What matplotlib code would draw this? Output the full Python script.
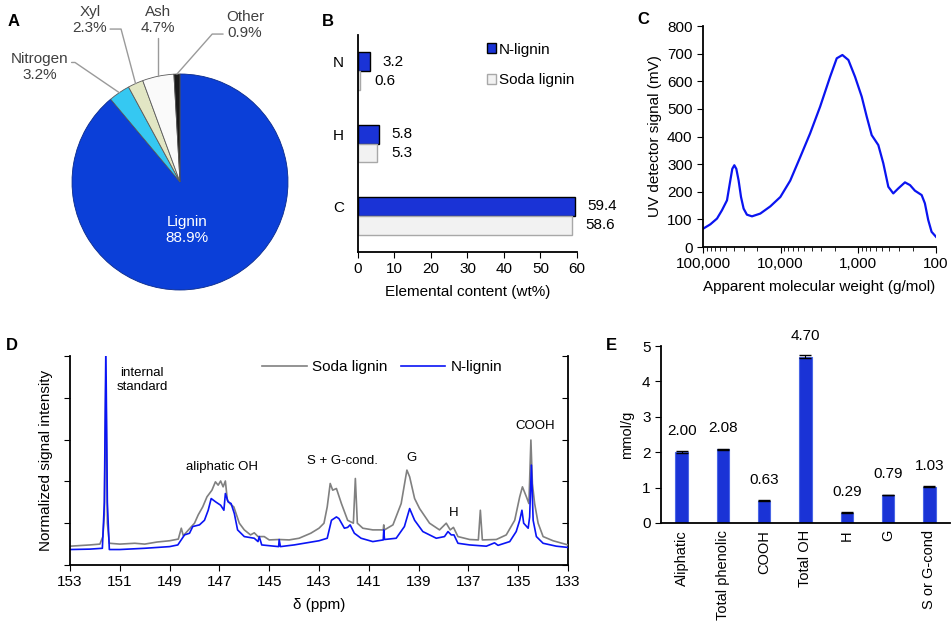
import numpy as np
import matplotlib
matplotlib.use('Agg')
import matplotlib.pyplot as plt
from matplotlib.patches import Patch
from matplotlib.ticker import NullFormatter

plt.rcParams['font.family'] = ['Liberation Sans', 'DejaVu Sans']
plt.rcParams['font.size'] = 11

# ---- data ----
# A: composition of N-lignin
comp_names = ['Lignin', 'Nitrogen', 'Xyl', 'Ash', 'Other']
comp_pct = [88.9, 3.2, 2.3, 4.7, 0.9]

# B: elemental content
elements = ['N', 'H', 'C']
n_lignin_wt = [3.2, 5.8, 59.4]
soda_lignin_wt = [0.6, 5.3, 58.6]

# C: GPC trace
mw = [100000, 80500, 66000, 57000, 51600, 49100, 44500, 41950, 39500, 37250,
      34800, 32400, 30000, 27200, 23400, 18300, 13600, 10100, 7540, 5610,
      4180, 3105, 2310, 1897, 1604, 1343, 1102, 904, 780, 673,
      553, 477, 411, 355, 306, 251, 216, 187, 153, 139,
      126, 114, 100]
uv_signal = [66, 82, 103, 133, 157, 169, 241, 283, 296, 283,
             241, 181, 139, 117, 111, 121, 147, 181, 240, 325,
             411, 508, 616, 683, 695, 677, 616, 544, 472, 405,
             369, 303, 218, 194, 212, 234, 224, 204, 188, 158,
             98, 55, 37]

# D: 31P NMR spectra
soda_ppm = [153.0, 152.2, 151.8, 151.68, 151.62, 151.56, 151.50, 151.42, 151.0, 150.4,
            150.0, 149.5, 149.0, 148.65, 148.53, 148.45, 148.3, 148.0, 147.85, 147.67,
            147.5, 147.3, 147.16, 147.05, 146.95, 146.85, 146.76, 146.68, 146.55, 146.42,
            146.2, 146.0, 145.75, 145.6, 145.45, 145.2, 145.0, 144.6, 144.2, 143.8,
            143.33, 143.0, 142.8, 142.67, 142.55, 142.45, 142.3, 142.1, 141.85, 141.62,
            141.54, 141.46, 141.24, 140.84, 140.42, 140.4, 140.37, 140.03, 139.7, 139.47,
            139.36, 139.16, 138.96, 138.56, 138.16, 137.89, 137.73, 137.6, 137.42, 136.95,
            136.6, 136.52, 136.44, 135.88, 135.48, 135.14, 134.94, 134.83, 134.67, 134.57,
            134.49, 134.43, 134.34, 134.2, 134.0, 133.6, 133.0]
soda_int = [0.45, 0.48, 0.50, 0.68, 1.2, 4.5, 1.0, 0.52, 0.50, 0.52,
            0.50, 0.55, 0.58, 0.62, 0.88, 0.70, 0.80, 1.00, 1.20, 1.39,
            1.63, 1.79, 1.99, 1.91, 2.01, 1.87, 2.01, 1.55, 1.45, 1.39,
            1.00, 0.84, 0.72, 0.77, 0.68, 0.68, 0.60, 0.61, 0.60, 0.64,
            0.76, 0.88, 1.00, 1.39, 1.95, 1.79, 1.83, 1.47, 1.07, 1.00,
            2.07, 1.00, 0.88, 0.84, 0.84, 0.96, 0.84, 0.96, 1.47, 2.27,
            2.11, 1.59, 1.35, 1.00, 0.84, 1.00, 0.84, 0.90, 0.68, 0.61,
            0.60, 1.31, 0.60, 0.61, 0.72, 1.07, 1.63, 1.87, 1.63, 1.47,
            2.99, 1.95, 1.47, 1.00, 0.68, 0.58, 0.48]

nlig_ppm = [153.0, 152.2, 151.7, 151.62, 151.56, 151.50, 151.42, 151.0, 150.0, 149.0,
            148.67, 148.4, 148.2, 148.07, 147.8, 147.6, 147.45, 147.33, 147.15, 146.95,
            146.82, 146.76, 146.65, 146.53, 146.4, 146.27, 146.0, 145.6, 145.45, 145.4,
            145.3, 144.8, 144.62, 144.6, 144.55, 144.0, 143.5, 143.0, 142.67, 142.5,
            142.3, 142.2, 141.98, 141.85, 141.75, 141.58, 141.31, 140.84, 140.42, 140.40,
            140.37, 139.9, 139.57, 139.36, 139.16, 138.83, 138.29, 137.96, 137.82, 137.69,
            137.58, 137.42, 136.95, 136.28, 135.95, 135.81, 135.34, 135.08, 134.94, 134.85,
            134.78, 134.6, 134.54, 134.47, 134.4, 134.27, 134.0, 133.47, 133.0]
nlig_int = [0.37, 0.38, 0.40, 1.5, 5.2, 1.5, 0.37, 0.37, 0.40, 0.44,
            0.48, 0.72, 0.76, 0.92, 0.96, 1.07, 1.31, 1.59, 1.51, 1.43,
            1.31, 1.71, 1.51, 1.47, 1.23, 0.84, 0.68, 0.64, 0.56, 0.68,
            0.48, 0.45, 0.44, 0.61, 0.44, 0.48, 0.53, 0.58, 0.64, 1.07,
            1.15, 1.11, 0.88, 0.90, 0.96, 0.76, 0.64, 0.56, 0.60, 0.84,
            0.61, 0.64, 0.92, 1.35, 1.07, 0.80, 0.64, 0.68, 0.80, 0.72,
            0.72, 0.52, 0.48, 0.45, 0.53, 0.47, 0.56, 0.80, 1.07, 1.31,
            1.00, 0.88, 1.15, 2.39, 1.07, 0.68, 0.52, 0.45, 0.42]

# E: hydroxyl groups
oh_groups = ['Aliphatic', 'Total phenolic', 'COOH', 'Total OH', 'H', 'G', 'S or G-cond']
oh_mmol = [2.00, 2.08, 0.63, 4.70, 0.29, 0.79, 1.03]
oh_err = [0.03, 0.01, 0.01, 0.04, 0.01, 0.01, 0.01]

BLUE = '#1a33d6'
W, H = 953, 633
fig = plt.figure(figsize=(W / 100, H / 100), dpi=100)


def px_axes(left, top, right, bottom):
    return fig.add_axes([left / W, 1 - bottom / H, (right - left) / W, (bottom - top) / H])


def label(x, y, s):
    fig.text(x / W, 1 - y / H, s, fontsize=12, fontweight='bold', ha='left', va='center')


# ---------------- A ----------------
axA = px_axes(0, 0, 330, 290)
cx, cy, r = 180, 108, 108
wedges, _ = axA.pie(comp_pct, colors=['#0b3fd8', '#35c8f2', '#e2e6c4', '#fafafa', '#1a1a1a'],
                    startangle=90, counterclock=False, center=(cx, cy), radius=r,
                    wedgeprops=dict(edgecolor='#5a5a5a', linewidth=0.6))
wedges[0].set_edgecolor('#0a2a8a')
axA.set_xlim(0, 330)
axA.set_ylim(0, 290)
axA.axis('off')
axA.text(187, 60, 'Lignin\n88.9%', color='white', ha='center', va='center', fontsize=11)

lab_pos = {'Nitrogen': (40, 223, 145.7, (1.0, 0.65)),
           'Xyl': (90, 270, 104.9, (1.0, 0.2)),
           'Ash': (158, 270, 90.0, (0.5, 0.0)),
           'Other': (245, 265, 48.6, (0.0, 0.2))}
for w, name, pct in zip(wedges, comp_names, comp_pct):
    if name not in lab_pos:
        continue
    tx, ty, angB, rel = lab_pos[name]
    mid = np.deg2rad((w.theta1 + w.theta2) / 2)
    xy = (cx + r * np.cos(mid), cy + r * np.sin(mid))
    axA.annotate(f'{name}\n{pct}%', xy=xy, xytext=(tx, ty), ha='center', va='center',
                 color='#404040', fontsize=11,
                 arrowprops=dict(arrowstyle='-', color='#9a9a9a', lw=1, relpos=rel,
                                 shrinkA=0, shrinkB=0,
                                 connectionstyle=f'angle,angleA=0,angleB={angB},rad=0'))
label(8, 22, 'A')

# ---------------- B ----------------
axB = px_axes(358, 35, 577, 252)
yy = np.arange(len(elements))
hb = 0.26
axB.barh(yy - hb / 2, n_lignin_wt, height=hb, color=BLUE, edgecolor='black', linewidth=1,
         label='N-lignin')
axB.barh(yy + hb / 2, soda_lignin_wt, height=hb, color='#f2f2f2', edgecolor='#a8a8a8',
         linewidth=1, label='Soda lignin')
for i in yy:
    axB.annotate(f'{n_lignin_wt[i]}', (n_lignin_wt[i], i - hb / 2), xytext=(9, 0),
                 textcoords='offset points', ha='left', va='center', fontsize=11)
    axB.annotate(f'{soda_lignin_wt[i]}', (soda_lignin_wt[i], i + hb / 2), xytext=(10, 0),
                 textcoords='offset points', ha='left', va='center', fontsize=11)
axB.set_xlim(0, 60)
axB.set_ylim(2.5, -0.5)
axB.set_yticks(yy - hb / 2)
axB.set_yticklabels(elements)
axB.set_xticks(range(0, 61, 10))
axB.tick_params(axis='y', length=0, pad=10, labelsize=11)
axB.tick_params(axis='x', direction='out', length=4, labelsize=11)
for s in ['top', 'right']:
    axB.spines[s].set_visible(False)
axB.spines['left'].set_linewidth(1.3)
axB.spines['bottom'].set_linewidth(1.3)
axB.set_xlabel('Elemental content (wt%)', fontsize=11, labelpad=6)
hB = [Patch(facecolor=BLUE, edgecolor='black'), Patch(facecolor='#f2f2f2', edgecolor='#a8a8a8')]
axB.legend(hB, ['N-lignin', 'Soda lignin'], frameon=False, loc='upper left',
           bbox_to_anchor=(0.553, 1.0), borderpad=0, handlelength=0.6, handleheight=0.6,
           handletextpad=0.2, labelspacing=1.1, fontsize=11)
label(322, 22, 'B')

# ---------------- C ----------------
axC = px_axes(703, 26, 936, 247)
axC.plot(mw, uv_signal, color='#0a14f0', lw=1.6)
axC.set_xscale('log')
axC.set_xlim(100000, 100)
axC.set_ylim(0, 800)
axC.set_yticks(range(0, 801, 100))
axC.set_xticks([100000, 10000, 1000, 100])
axC.set_xticklabels(['100,000', '10,000', '1,000', '100'])
axC.xaxis.set_minor_formatter(NullFormatter())
axC.tick_params(axis='both', which='major', direction='out', length=4, labelsize=11)
axC.tick_params(axis='x', which='minor', direction='out', length=3)
for s in ['top', 'right']:
    axC.spines[s].set_visible(False)
axC.spines['left'].set_linewidth(1.3)
axC.spines['bottom'].set_linewidth(1.3)
axC.set_ylabel('UV detector signal (mV)', fontsize=11, labelpad=4)
axC.set_xlabel('Apparent molecular weight (g/mol)', fontsize=11, labelpad=6)
label(637, 20, 'C')

# ---------------- D ----------------
axD = px_axes(70, 356, 568, 565)
axD.plot(soda_ppm, soda_int, color='#808080', lw=1.2, label='Soda lignin')
axD.plot(nlig_ppm, nlig_int, color='#0a14f5', lw=1.2, label='N-lignin')
axD.set_xlim(153, 133)
axD.set_ylim(0, 5)
axD.set_xticks(range(153, 132, -2))
axD.set_yticks(range(0, 6))
axD.tick_params(axis='y', labelleft=False, direction='out', length=4)
axD.tick_params(axis='x', direction='out', length=4, labelsize=11)
axD.spines['top'].set_visible(False)
axD.spines['right'].set_visible(False)
secD = axD.secondary_yaxis('right')
secD.set_yticks(range(0, 6))
secD.tick_params(direction='in', length=4, labelright=False)
secD.spines['right'].set_linewidth(1.3)
axD.spines['left'].set_linewidth(1.3)
axD.spines['bottom'].set_linewidth(1.3)
axD.set_ylabel('Normalized signal intensity', fontsize=11, labelpad=8)
axD.set_xlabel('δ (ppm)', fontsize=11, labelpad=6)
axD.legend(frameon=False, loc='center left', bbox_to_anchor=(0.371, 0.947), ncol=2,
           borderpad=0, handlelength=2.9, handletextpad=0.35, columnspacing=0.9, fontsize=11)
for txt, px, py in [('internal\nstandard', 150.1, 4.42), ('aliphatic OH', 146.9, 2.34),
                    ('S + G-cond.', 142.04, 2.5), ('G', 139.3, 2.55), ('H', 137.6, 1.24),
                    ('COOH', 134.3, 3.32)]:
    axD.text(px, py, txt, ha='center', va='center', fontsize=9.5)
label(6, 345, 'D')

# ---------------- E ----------------
axE = px_axes(661, 346, 950, 523)
xe = np.arange(len(oh_groups))
axE.bar(xe, oh_mmol, width=0.3, color=BLUE, edgecolor='#4a66e6', linewidth=0.8)
axE.errorbar(xe, oh_mmol, yerr=oh_err, fmt='none', ecolor='black', elinewidth=0.8,
             capsize=4.3, capthick=1.0)
for i, v in enumerate(oh_mmol):
    axE.annotate(f'{v:.2f}', (i, v), xytext=(0, 10), textcoords='offset points',
                 ha='center', va='bottom', fontsize=11)
axE.set_xlim(-0.5, 6.5)
axE.set_ylim(0, 5)
axE.set_yticks(range(0, 6))
axE.set_xticks(xe)
axE.set_xticklabels(oh_groups, rotation=90, fontsize=10.5)
axE.tick_params(axis='x', length=0, pad=5)
axE.tick_params(axis='y', direction='out', length=4, labelsize=11)
for s in ['top', 'right']:
    axE.spines[s].set_visible(False)
axE.spines['left'].set_linewidth(1.3)
axE.spines['bottom'].set_linewidth(1.3)
axE.set_ylabel('mmol/g', fontsize=10.5, labelpad=6)
label(606, 346, 'E')

fig.savefig('out.png', dpi=100)
